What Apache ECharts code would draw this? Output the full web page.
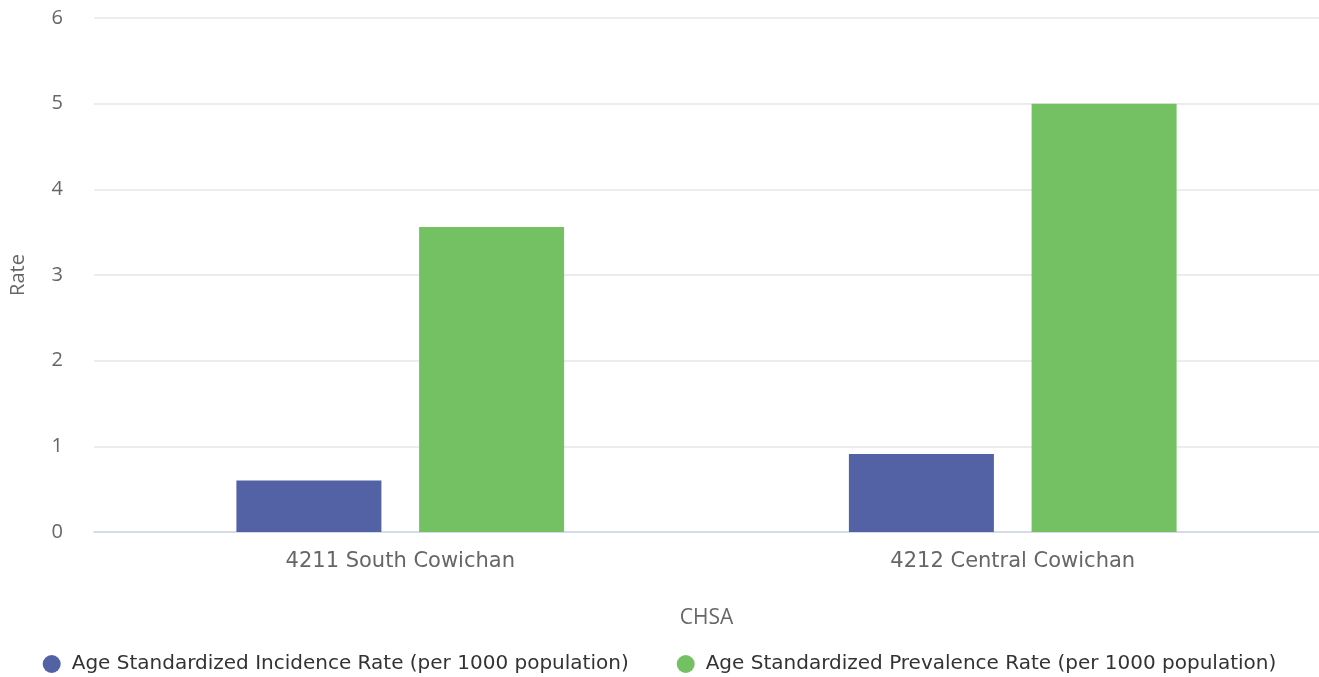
<!DOCTYPE html>
<html>
<head>
<meta charset="utf-8">
<script src="https://cdn.jsdelivr.net/npm/echarts@6/dist/echarts.min.js"></script>
<style>html,body{margin:0;padding:0;background:#fff}#c{width:1319px;height:677px}</style>
</head>
<body>
<div id="c"></div>
<script>
const categories = ['4211 South Cowichan', '4212 Central Cowichan'];
const incidence = [0.60, 0.91];
const prevalence = [3.56, 5.0];
const seriesNames = ['Age Standardized Incidence Rate (per 1000 population)', 'Age Standardized Prevalence Rate (per 1000 population)'];

const chart = echarts.init(document.getElementById('c'));
const font = 'DejaVu Sans';
chart.setOption({
  animation: false,
  grid: { left: 91, right: 0, top: 18, bottom: 145 },
  legend: {
    top: 649, left: 'center', itemGap: 48, itemWidth: 18, itemHeight: 18, icon: 'circle',
    textStyle: { fontFamily: font, fontSize: 20, color: '#333', padding: [0, 0, 0, 6] },
    data: seriesNames
  },
  xAxis: {
    type: 'category', data: categories,
    name: 'CHSA', nameLocation: 'middle', nameGap: 76,
    nameTextStyle: { fontFamily: 'Open Sans', fontSize: 21, color: '#666' },
    axisLine: { lineStyle: { color: '#ccd6eb', width: 1.5 } },
    axisTick: { show: false },
    axisLabel: { fontFamily: font, fontSize: 21, color: '#666', margin: 19 }
  },
  yAxis: {
    type: 'value', min: 0, max: 6, interval: 1,
    name: 'Rate', nameLocation: 'middle', nameGap: 66,
    nameTextStyle: { fontFamily: 'Open Sans', fontSize: 20, color: '#666' },
    axisLabel: { fontFamily: 'Open Sans', fontSize: 20, color: '#666', margin: 31 },
    splitLine: { lineStyle: { color: '#e6e6e6', width: 1.5 } },
    axisLine: { show: false }, axisTick: { show: false }
  },
  series: [
    { name: seriesNames[0], type: 'bar', data: incidence, barWidth: 145, barGap: '26%',
      itemStyle: { color: '#5262a5' } },
    { name: seriesNames[1], type: 'bar', data: prevalence, barWidth: 145, barGap: '26%',
      itemStyle: { color: '#74c164' } }
  ]
});
</script>
</body>
</html>
